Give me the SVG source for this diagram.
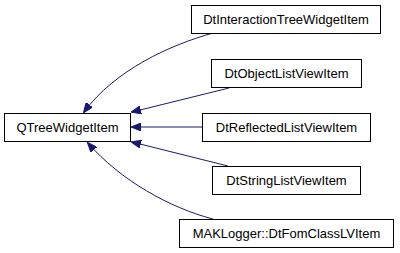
<svg xmlns="http://www.w3.org/2000/svg" width="400" height="253" viewBox="0 0 400 253">
<style>
.box{fill:#fff;stroke:#000;stroke-width:1}
.lbl{font-family:"Liberation Sans",Arial,sans-serif;font-size:13px;fill:#000;text-anchor:middle}
.edge{fill:none;stroke:#191970;stroke-width:1}
</style>
<defs>
<marker id="arr" markerWidth="10" markerHeight="8" refX="9" refY="4" orient="auto" markerUnits="userSpaceOnUse">
<path d="M0,0 L10,4 L0,8 Z" fill="#191970" stroke="#191970"/>
</marker>
</defs>
<rect width="400" height="253" fill="#fff"/>
<g id="connectors">
<path class="edge" marker-end="url(#arr)" d="M213,33 C170,45 115,70 84,112"/>
<path class="edge" marker-end="url(#arr)" d="M229,88 L132,112"/>
<path class="edge" marker-end="url(#arr)" d="M202,127 L132,127"/>
<path class="edge" marker-end="url(#arr)" d="M228,166 L132,142"/>
<path class="edge" marker-end="url(#arr)" d="M213,219 C170,208 120,180 88,143"/>
</g>
<g id="QTreeWidgetItem">
<rect class="box" x="4.5" y="113.5" width="126" height="28"/>
<text class="lbl" x="67.5" y="131.5">QTreeWidgetItem</text>
</g>
<g id="DtInteractionTreeWidgetItem">
<rect class="box" x="191.5" y="5.5" width="189" height="28"/>
<text class="lbl" x="286" y="23.5">DtInteractionTreeWidgetItem</text>
</g>
<g id="DtObjectListViewItem">
<rect class="box" x="211.5" y="59.5" width="150" height="28"/>
<text class="lbl" x="286.5" y="77.5">DtObjectListViewItem</text>
</g>
<g id="DtReflectedListViewItem">
<rect class="box" x="202.5" y="113.5" width="168" height="28"/>
<text class="lbl" x="286.5" y="131.5">DtReflectedListViewItem</text>
</g>
<g id="DtStringListViewItem">
<rect class="box" x="212.5" y="166.5" width="148" height="28"/>
<text class="lbl" x="286.5" y="184.5">DtStringListViewItem</text>
</g>
<g id="MAKLogger_DtFomClassLVItem">
<rect class="box" x="179.5" y="219.5" width="214" height="28"/>
<text class="lbl" x="286.5" y="237.5">MAKLogger::DtFomClassLVItem</text>
</g>
</svg>
